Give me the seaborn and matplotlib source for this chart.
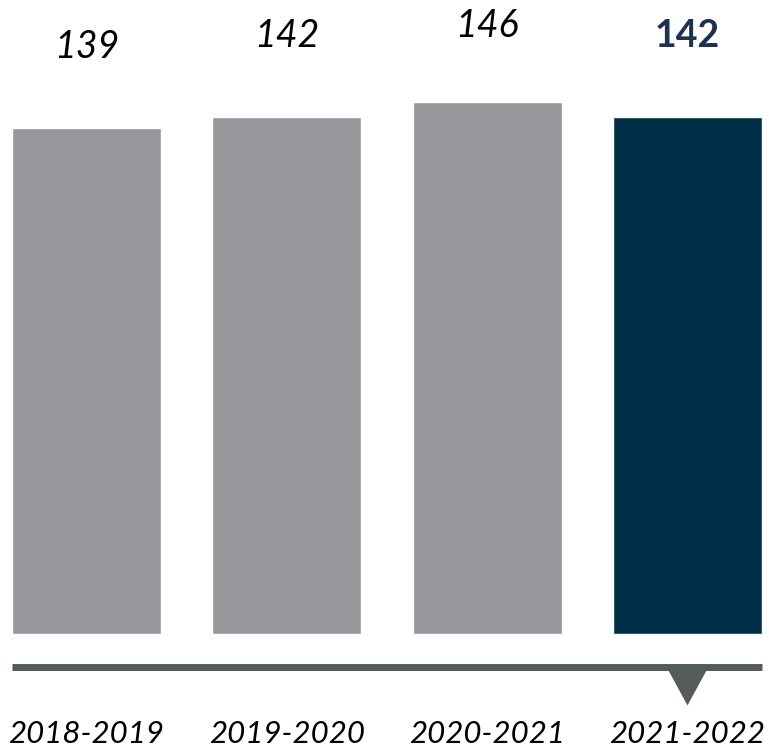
import matplotlib.pyplot as plt
import seaborn as sns
import pandas as pd

seasons = ["2018-2019", "2019-2020", "2020-2021", "2021-2022"]
counts = [139, 142, 146, 142]

GRAY = "#96979b"
NAVY = "#022f48"
LABEL_NAVY = "#1f3050"
RULE = "#555a5a"

sns.set_theme(style="white")
plt.rcParams["font.family"] = ["Lato", "DejaVu Sans"]

df = pd.DataFrame({"season": seasons, "count": counts})
colors = [GRAY] * (len(seasons) - 1) + [NAVY]

fig = plt.figure(figsize=(7.69, 7.54), dpi=100)
ax = fig.add_axes([12 / 769, 120 / 754, 750 / 769, 634 / 754])

sns.barplot(data=df, x="season", y="count", hue="season", palette=colors,
            width=0.744, saturation=1, legend=False, ax=ax)

ax.set_xlim(-0.372, 3.372)
ax.set_ylim(0, 174)
ax.set_xlabel("")
ax.set_ylabel("")
ax.set_yticks([])
sns.despine(ax=ax, left=True, bottom=True)
ax.tick_params(axis="x", length=0, pad=62)
for lbl in ax.get_xticklabels():
    lbl.set_fontsize(22.5)
    lbl.set_fontstyle("italic")
    lbl.set_fontweight("normal")
    lbl.set_color("black")

# value labels above the bars
offsets = [22, 22, 21, 22]
for i, (v, off) in enumerate(zip(counts, offsets)):
    last = i == len(counts) - 1
    ax.text(i, v + off, str(v), ha="center", va="center",
            fontsize=27, clip_on=False,
            fontstyle="normal" if last else "italic",
            fontweight="bold" if last else "normal",
            color=LABEL_NAVY if last else "black")

# timeline rule with pointer under the current season
ax.plot([-0.372, 3.372], [-9.1, -9.1], color=RULE, lw=5, clip_on=False,
        solid_capstyle="butt")
ax.fill([2.9, 3.1, 3.0], [-9.5, -9.5, -19.6], color=RULE, clip_on=False, lw=0)

fig.savefig("out.png", dpi=100)
